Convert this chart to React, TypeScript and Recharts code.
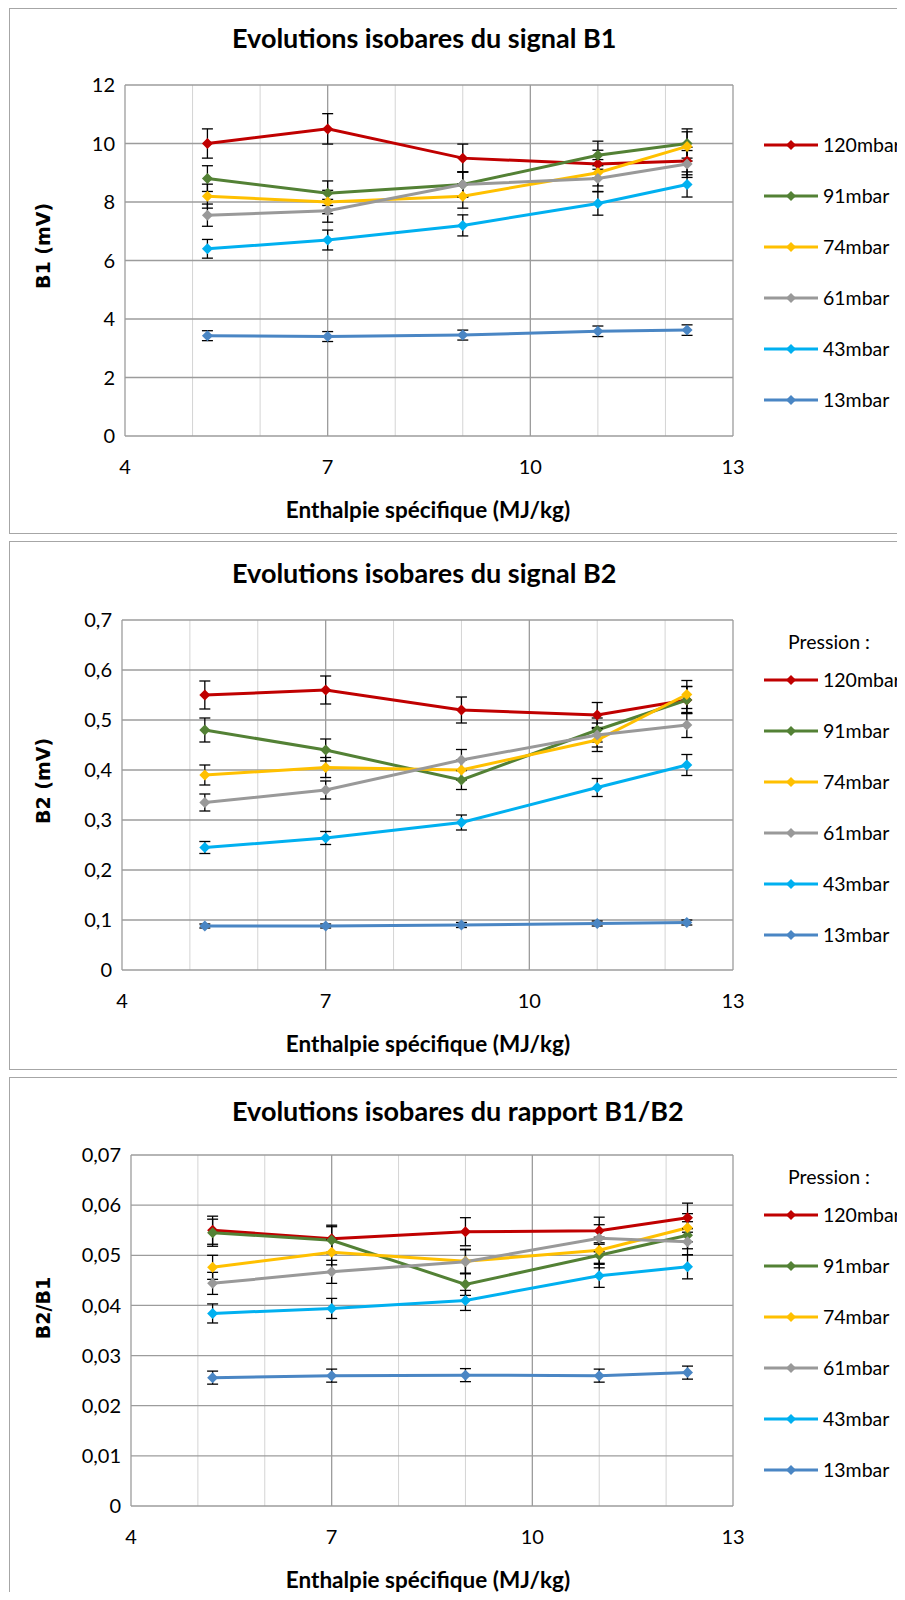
import { LineChart, Line, XAxis, YAxis, CartesianGrid, ErrorBar } from "recharts";

// abscisse commune : enthalpie spécifique (MJ/kg)
const enthalpy = [5.22, 7.0, 9.0, 11.0, 12.32];
const xTicks = [4, 7, 10, 13];
const xMinor = [5, 6, 8, 9, 11, 12];

const pressures = ["120mbar", "91mbar", "74mbar", "61mbar", "43mbar", "13mbar"];
const colors = ["#c00000", "#538135", "#ffc000", "#999999", "#00b0f0", "#4a86c4"];

// signal B1 (mV)
const b1Ticks = [0, 2, 4, 6, 8, 10, 12];
const b1_120 = [10.0, 10.5, 9.5, 9.3, 9.4];
const b1_91 = [8.8, 8.3, 8.6, 9.6, 10.0];
const b1_74 = [8.2, 8.0, 8.2, 9.0, 9.9];
const b1_61 = [7.55, 7.7, 8.6, 8.8, 9.3];
const b1_43 = [6.4, 6.7, 7.2, 7.95, 8.6];
const b1_13 = [3.43, 3.4, 3.45, 3.58, 3.62];
const b1_120_err = [0.5, 0.52, 0.48, 0.47, 0.47];
const b1_91_err = [0.44, 0.42, 0.43, 0.48, 0.5];
const b1_74_err = [0.41, 0.4, 0.41, 0.45, 0.5];
const b1_61_err = [0.38, 0.39, 0.43, 0.44, 0.46];
const b1_43_err = [0.32, 0.34, 0.36, 0.4, 0.43];
const b1_13_err = [0.17, 0.17, 0.17, 0.18, 0.18];

// signal B2 (mV)
const b2Ticks = [0, 0.1, 0.2, 0.3, 0.4, 0.5, 0.6, 0.7];
const b2_120 = [0.55, 0.56, 0.52, 0.51, 0.54];
const b2_91 = [0.48, 0.44, 0.38, 0.48, 0.54];
const b2_74 = [0.39, 0.405, 0.4, 0.46, 0.551];
const b2_61 = [0.335, 0.36, 0.42, 0.47, 0.49];
const b2_43 = [0.245, 0.264, 0.295, 0.365, 0.41];
const b2_13 = [0.088, 0.088, 0.09, 0.093, 0.095];
const b2_120_err = [0.028, 0.028, 0.026, 0.025, 0.027];
const b2_91_err = [0.024, 0.022, 0.019, 0.024, 0.027];
const b2_74_err = [0.02, 0.02, 0.02, 0.023, 0.028];
const b2_61_err = [0.017, 0.018, 0.021, 0.024, 0.025];
const b2_43_err = [0.012, 0.013, 0.015, 0.018, 0.021];
const b2_13_err = [0.004, 0.004, 0.005, 0.005, 0.005];

// rapport B2/B1
const rTicks = [0, 0.01, 0.02, 0.03, 0.04, 0.05, 0.06, 0.07];
const r_120 = [0.055, 0.0533, 0.0547, 0.0549, 0.0575];
const r_91 = [0.0545, 0.053, 0.0442, 0.05, 0.054];
const r_74 = [0.0476, 0.0506, 0.0488, 0.051, 0.0555];
const r_61 = [0.0444, 0.0467, 0.0487, 0.0534, 0.0527];
const r_43 = [0.0384, 0.0394, 0.041, 0.0459, 0.0477];
const r_13 = [0.0256, 0.026, 0.0261, 0.026, 0.0266];
const r_120_err = [0.0028, 0.0027, 0.0028, 0.0027, 0.0029];
const r_91_err = [0.0027, 0.0027, 0.0022, 0.0025, 0.0027];
const r_74_err = [0.0024, 0.0025, 0.0024, 0.0026, 0.0028];
const r_61_err = [0.0022, 0.0023, 0.0024, 0.0027, 0.0026];
const r_43_err = [0.0019, 0.002, 0.002, 0.0023, 0.0024];
const r_13_err = [0.0013, 0.0013, 0.0013, 0.0013, 0.0013];

const FONT = "Lato, 'Open Sans', sans-serif";
const W = 880;
const YAW = 60;
const XAH = 40;

const fmt = (v: number) => (v === 0 ? "0" : String(v).replace(".", ","));

// minor vertical gridlines, placed with the axis scale when available
const minorX = (props: any) => {
  const sc = props?.xAxis?.scale;
  if (typeof sc === "function") return xMinor.map((v) => sc(v));
  if (sc && typeof sc.map === "function") return xMinor.map((v) => sc.map(v));
  const o = props?.offset;
  if (!o) return [];
  return xMinor.map((v) => o.left + ((v - 4) / 9) * o.width);
};

const diamond = (color: string) => (p: any) => {
  const { cx, cy } = p;
  if (cx == null || cy == null) return <g key={p.index} />;
  const r = 5.5;
  return (
    <path
      key={`d-${p.index}`}
      d={`M${cx},${cy - r}L${cx + r},${cy}L${cx},${cy + r}L${cx - r},${cy}Z`}
      fill={color}
    />
  );
};

type Panel = {
  title: string;
  titleY: number;
  yLabel: string;
  yLabelY: number;
  yTicks: number[];
  series: number[][];
  errors: number[][];
  frameTop: number;
  frameH: number;
  plot: { l: number; t: number; r: number; b: number };
  legendY: number;
  pression: boolean;
};

function Chart({ p }: { p: Panel }) {
  const H = p.frameH - 2;
  const oy = p.frameTop + 1; // origine verticale du contenu
  const margin = {
    left: p.plot.l - 10 - YAW,
    top: p.plot.t - oy,
    right: W - (p.plot.r - 10),
    bottom: H - (p.plot.b - oy) - XAH,
  };
  const yMax = p.yTicks[p.yTicks.length - 1];

  return (
    <div
      style={{
        position: "absolute",
        left: 1,
        top: p.frameTop - 8,
        width: 896,
        height: p.frameH,
        borderTop: "1px solid #a6a6a6",
        borderLeft: "1px solid #a6a6a6",
        borderBottom: "1px solid #a6a6a6",
        boxSizing: "border-box",
        background: "#fff",
        overflow: "hidden",
      }}
    >
      <LineChart width={W} height={H} margin={margin}>
        <CartesianGrid
          horizontal={false}
          stroke="#d4d4d4"
          strokeWidth={1}
          verticalCoordinatesGenerator={minorX}
        />
        <CartesianGrid stroke="#9c9c9c" strokeWidth={1.3} />
        <XAxis
          type="number"
          dataKey="x"
          domain={[4, 13]}
          ticks={xTicks}
          interval={0}
          axisLine={false}
          tickLine={false}
          tickMargin={18}
          height={XAH}
          tick={{ fontSize: 20, fill: "#000", fontFamily: FONT }}
        />
        <YAxis
          type="number"
          domain={[0, yMax]}
          ticks={p.yTicks}
          interval={0}
          tickFormatter={fmt}
          axisLine={false}
          tickLine={false}
          tickMargin={4}
          width={YAW}
          tick={{ fontSize: 20, fill: "#000", fontFamily: FONT }}
        />
        {p.series.map((vals, si) => {
          const rows = enthalpy.map((x, i) => ({ x, y: vals[i], err: p.errors[si][i] }));
          return (
            <Line
              key={pressures[si]}
              name={pressures[si]}
              data={rows}
              dataKey="y"
              type="linear"
              stroke={colors[si]}
              strokeWidth={3}
              dot={diamond(colors[si])}
              activeDot={false}
              isAnimationActive={false}
            >
              <ErrorBar dataKey="err" direction="y" width={5.5} stroke="#000" strokeWidth={1.3} />
            </Line>
          );
        })}
      </LineChart>

      {/* titre */}
      <div
        style={{
          position: "absolute",
          left: 222,
          top: p.titleY - oy,
          transform: "translateY(-50%)",
          fontFamily: FONT,
          fontWeight: 700,
          fontSize: 27,
          lineHeight: 1,
          whiteSpace: "nowrap",
          color: "#000",
        }}
      >
        {p.title}
      </div>

      {/* titre axe Y */}
      <div
        style={{
          position: "absolute",
          left: 33,
          top: p.yLabelY - oy,
          transform: "translate(-50%, -50%) rotate(-90deg)",
          fontFamily: "'DejaVu Sans', Verdana, sans-serif",
          fontWeight: 700,
          fontSize: 19,
          lineHeight: 1,
          whiteSpace: "nowrap",
          color: "#000",
        }}
      >
        {p.yLabel}
      </div>

      {/* titre axe X */}
      <div
        style={{
          position: "absolute",
          left: 418,
          top: p.plot.b - oy + 74,
          transform: "translate(-50%, -50%)",
          fontFamily: FONT,
          fontWeight: 700,
          fontSize: 22.5,
          lineHeight: 1,
          whiteSpace: "nowrap",
          color: "#000",
        }}
      >
        Enthalpie spécifique (MJ/kg)
      </div>

      {/* légende */}
      {p.pression && (
        <div
          style={{
            position: "absolute",
            left: 778,
            top: p.legendY - 38 - oy,
            transform: "translateY(-50%)",
            fontFamily: FONT,
            fontSize: 19.5,
            lineHeight: 1,
            whiteSpace: "nowrap",
            color: "#000",
          }}
        >
          Pression :
        </div>
      )}
      {pressures.map((name, i) => {
        const cy = p.legendY - oy + i * 51;
        return (
          <div key={name}>
            <svg
              width={54}
              height={12}
              style={{ position: "absolute", left: 754, top: cy - 6 }}
            >
              <line x1={0} y1={6} x2={54} y2={6} stroke={colors[i]} strokeWidth={3} />
              <path d="M27,1L32,6L27,11L22,6Z" fill={colors[i]} />
            </svg>
            <div
              style={{
                position: "absolute",
                left: 813,
                top: cy,
                transform: "translateY(-50%)",
                fontFamily: FONT,
                fontSize: 19.5,
                lineHeight: 1,
                whiteSpace: "nowrap",
                color: "#000",
              }}
            >
              {name}
            </div>
          </div>
        );
      })}
    </div>
  );
}

const panels: Panel[] = [
  {
    title: "Evolutions isobares du signal B1",
    titleY: 37,
    yLabel: "B1 (mV)",
    yLabelY: 246,
    yTicks: b1Ticks,
    series: [b1_120, b1_91, b1_74, b1_61, b1_43, b1_13],
    errors: [b1_120_err, b1_91_err, b1_74_err, b1_61_err, b1_43_err, b1_13_err],
    frameTop: 8,
    frameH: 526,
    plot: { l: 125, t: 85, r: 733, b: 436 },
    legendY: 144.6,
    pression: false,
  },
  {
    title: "Evolutions isobares du signal B2",
    titleY: 572,
    yLabel: "B2 (mV)",
    yLabelY: 781,
    yTicks: b2Ticks,
    series: [b2_120, b2_91, b2_74, b2_61, b2_43, b2_13],
    errors: [b2_120_err, b2_91_err, b2_74_err, b2_61_err, b2_43_err, b2_13_err],
    frameTop: 541,
    frameH: 529,
    plot: { l: 122, t: 620, r: 733, b: 970 },
    legendY: 679.7,
    pression: true,
  },
  {
    title: "Evolutions isobares du rapport B1/B2",
    titleY: 1110,
    yLabel: "B2/B1",
    yLabelY: 1308,
    yTicks: rTicks,
    series: [r_120, r_91, r_74, r_61, r_43, r_13],
    errors: [r_120_err, r_91_err, r_74_err, r_61_err, r_43_err, r_13_err],
    frameTop: 1077,
    frameH: 522,
    plot: { l: 131, t: 1155, r: 733, b: 1506 },
    legendY: 1215,
    pression: true,
  },
];

export default function App() {
  return (
    <div style={{ position: "relative", width: 897, height: 1584, overflow: "hidden" }}>
      <style>{"html, body { overflow: hidden; }"}</style>
      {panels.map((p) => (
        <Chart key={p.title} p={p} />
      ))}
    </div>
  );
}
